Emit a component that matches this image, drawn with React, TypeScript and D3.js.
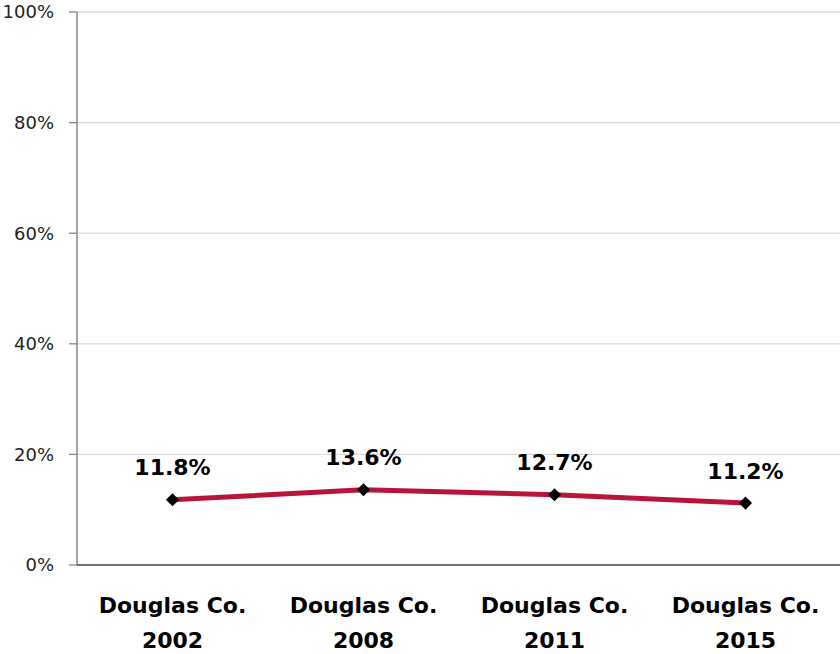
import React from 'react'
import * as d3 from 'd3'

const categories = ['Douglas Co.|2002', 'Douglas Co.|2008', 'Douglas Co.|2011', 'Douglas Co.|2015']
const values = [11.8, 13.6, 12.7, 11.2]
const yTicks = [0, 20, 40, 60, 80, 100]

const width = 840
const height = 654
const left = 77
const right = 841
const top = 12
const bottom = 565

const App = () => {
    const x = d3.scaleBand().domain(categories).range([left, right])
    const y = d3.scaleLinear().domain([0, 100]).range([bottom, top])
    const cx = (c: string) => (x(c) as number) + x.bandwidth() / 2

    const line = d3.line<number>()
        .x((_, i) => cx(categories[i]))
        .y(d => y(d))

    const diamond = d3.symbol().type(d3.symbolDiamond2).size(110)()

    const font = "'DejaVu Sans', sans-serif"

    return (
        <svg width={width} height={height} style={{ position: 'absolute', left: 0, top: 0 }}>
            {yTicks.map(t => (
                <g key={`g-${t}`}>
                    {t > 0 && <line x1={left} x2={width} y1={y(t)} y2={y(t)} stroke="#d9d9d9" strokeWidth={1.3} />}
                    <line x1={69} x2={left} y1={y(t)} y2={y(t)} stroke="#868686" strokeWidth={1.3} />
                    <text x={54} y={y(t)} dy="0.36em" textAnchor="end" fontSize={18} fontFamily={font} fill="#222">{t}%</text>
                </g>
            ))}
            <line x1={left} x2={left} y1={top} y2={bottom} stroke="#868686" strokeWidth={1.5} />
            <line x1={left} x2={width} y1={bottom} y2={bottom} stroke="#404040" strokeWidth={1.5} />
            {categories.map(c => {
                const [a, b] = c.split('|')
                return (
                    <text key={c} x={cx(c)} textAnchor="middle" fontSize={22} fontWeight="bold" fontFamily={font} fill="#000">
                        <tspan x={cx(c)} y={613}>{a}</tspan>
                        <tspan x={cx(c)} y={648}>{b}</tspan>
                    </text>
                )
            })}
            <path d={line(values) || ''} fill="none" stroke="#b8153a" strokeWidth={5} strokeLinejoin="round" />
            {values.map((v, i) => (
                <g key={`p-${i}`}>
                    <path d={diamond || ''} transform={`translate(${cx(categories[i])},${y(v)})`} fill="#000" />
                    <text x={cx(categories[i])} y={y(v) - 24.5} textAnchor="middle" fontSize={22} fontWeight="bold" fontFamily={font} fill="#000">{v.toFixed(1)}%</text>
                </g>
            ))}
        </svg>
    )
}

export default App
